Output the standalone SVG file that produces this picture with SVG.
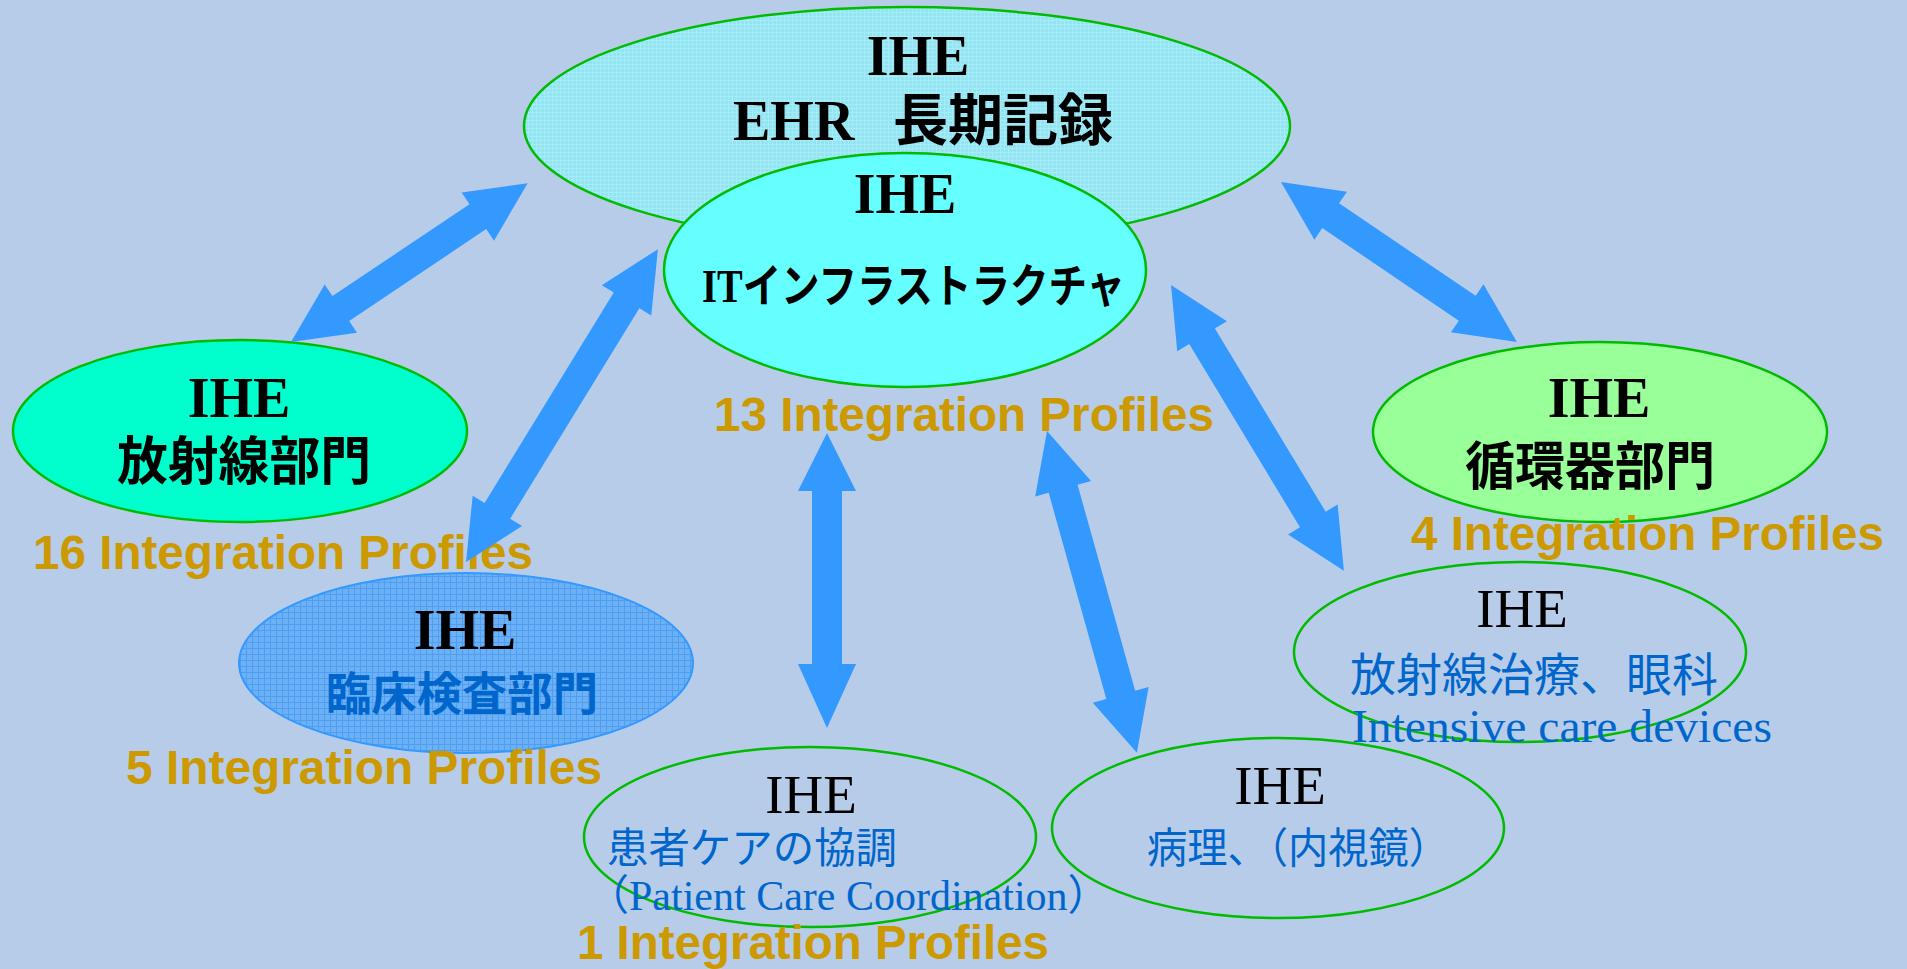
<svg xmlns="http://www.w3.org/2000/svg" width="1907" height="969" viewBox="0 0 1907 969">
<defs>
<pattern id="pEHR" width="4" height="4" patternUnits="userSpaceOnUse">
<rect width="4" height="4" fill="#92E4F2"/>
<path d="M0 0.5H4M0.5 0V4" stroke="#A6ECF6" stroke-width="1"/>
</pattern>
<pattern id="pLab" width="6" height="6" patternUnits="userSpaceOnUse">
<rect width="6" height="6" fill="#6CB0F6"/>
<path d="M0 0.5H6M0.5 0V6" stroke="#4F9EF2" stroke-width="1"/>
</pattern>
<style>
.ell{stroke:#00BB00;stroke-width:2.5}
.b{font-family:"Liberation Serif","Noto Sans CJK JP",serif;font-weight:bold;fill:#000}
.r{font-family:"Liberation Serif","Noto Sans CJK JP",serif;fill:#000}
.blue{fill:#0066CC}
.prof{font-family:"Liberation Sans",Arial,sans-serif;font-weight:bold;font-size:48px;fill:#CC9900}
.arr{fill:#3399FF}
.m{text-anchor:middle}
</style>
</defs>
<rect width="1907" height="969" fill="#B7CCE9"/>

<g id="node-ehr">
<ellipse class="ell" cx="907" cy="126" rx="383" ry="119" fill="url(#pEHR)"/>
<text class="b m" x="918" y="75" font-size="56">IHE</text>
<text class="b" y="140" font-size="56"><tspan x="733">EHR </tspan><tspan x="893" textLength="220" lengthAdjust="spacingAndGlyphs">長期記録</tspan></text>
</g>

<g id="node-it">
<ellipse class="ell" cx="905" cy="270" rx="241" ry="117" fill="#66FFFF"/>
<text class="b m" x="905" y="213" font-size="56">IHE</text>
<text class="b" x="702" y="302" font-size="46" textLength="423" lengthAdjust="spacingAndGlyphs">ITインフラストラクチャ</text>
<text class="prof" x="714" y="431" textLength="500" lengthAdjust="spacingAndGlyphs">13 Integration Profiles</text>
</g>

<g id="node-rad">
<ellipse class="ell" cx="240" cy="431" rx="227" ry="91" fill="#00FFCC"/>
<text class="b m" x="239" y="417" font-size="56">IHE</text>
<text class="b" x="117" y="480" font-size="52" textLength="254" lengthAdjust="spacingAndGlyphs">放射線部門</text>
<text class="prof" x="33" y="569" textLength="500" lengthAdjust="spacingAndGlyphs">16 Integration Profiles</text>
</g>

<g id="node-card">
<ellipse class="ell" cx="1600" cy="432" rx="227" ry="90" fill="#99FF99"/>
<text class="b m" x="1599" y="417" font-size="56">IHE</text>
<text class="b" x="1465" y="485" font-size="52" textLength="250" lengthAdjust="spacingAndGlyphs">循環器部門</text>
<text class="prof" x="1411" y="550" textLength="473" lengthAdjust="spacingAndGlyphs">4 Integration Profiles</text>
</g>

<g id="node-lab">
<ellipse cx="466" cy="663" rx="227" ry="90" fill="url(#pLab)" stroke="#3399FF" stroke-width="2"/>
<text class="b m" x="465" y="649" font-size="56">IHE</text>
<text class="b blue" x="326" y="710" font-size="46" textLength="272" lengthAdjust="spacingAndGlyphs">臨床検査部門</text>
<text class="prof" x="126" y="784" textLength="476" lengthAdjust="spacingAndGlyphs">5 Integration Profiles</text>
</g>

<g id="node-pcc">
<ellipse class="ell" cx="810" cy="837" rx="226" ry="90" fill="none"/>
<text class="r m" x="811" y="813" font-size="55">IHE</text>
<text class="r blue" x="607" y="863" font-size="42" textLength="290" lengthAdjust="spacingAndGlyphs">患者ケアの協調</text>
<text class="r blue" x="587" y="910" font-size="42">（Patient Care Coordination）</text>
<text class="prof" x="577" y="959" textLength="472" lengthAdjust="spacingAndGlyphs">1 Integration Profiles</text>
</g>

<g id="node-path">
<ellipse class="ell" cx="1278" cy="828" rx="226" ry="90" fill="none"/>
<text class="r m" x="1280" y="804" font-size="55">IHE</text>
<text class="r blue" x="1147" y="863" font-size="42" textLength="302" lengthAdjust="spacingAndGlyphs">病理、（内視鏡）</text>
</g>

<g id="node-rt">
<ellipse class="ell" cx="1520" cy="652" rx="226" ry="90" fill="none"/>
<text class="r m" x="1522" y="627" font-size="55">IHE</text>
<text class="r blue" x="1350" y="691" font-size="46" textLength="368" lengthAdjust="spacingAndGlyphs">放射線治療、眼科</text>
<text class="r blue" x="1352" y="742" font-size="46" textLength="420" lengthAdjust="spacingAndGlyphs">Intensive care devices</text>
</g>

<g id="connectors">
<path class="arr" transform="translate(291,342) rotate(-33.86)" d="M0,0 L60,-29 L60,-15 L225,-15 L225,-29 L285,0 L225,29 L225,15 L60,15 L60,29 Z"/>
<path class="arr" transform="translate(466,562) rotate(-58.47)" d="M0,0 L60,-29 L60,-15 L307,-15 L307,-29 L367,0 L307,29 L307,15 L60,15 L60,29 Z"/>
<path class="arr" transform="translate(827,728) rotate(-90)" d="M0,0 L64,-29 L64,-15 L237,-15 L237,-29 L295,0 L237,29 L237,15 L64,15 L64,29 Z"/>
<path class="arr" transform="translate(1047,431) rotate(74.39)" d="M0,0 L60,-29 L60,-15 L274,-15 L274,-29 L334,0 L274,29 L274,15 L60,15 L60,29 Z"/>
<path class="arr" transform="translate(1171,285) rotate(58.83)" d="M0,0 L60,-29 L60,-15 L274,-15 L274,-29 L334,0 L274,29 L274,15 L60,15 L60,29 Z"/>
<path class="arr" transform="translate(1281,182) rotate(34.14)" d="M0,0 L60,-29 L60,-15 L225,-15 L225,-29 L285,0 L225,29 L225,15 L60,15 L60,29 Z"/>
</g>
</svg>
